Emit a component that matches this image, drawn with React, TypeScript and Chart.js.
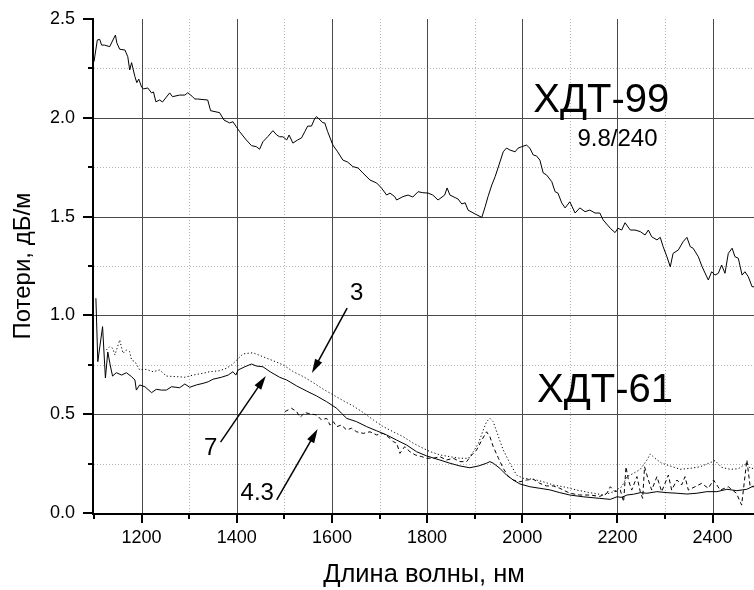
import React, { useEffect, useRef } from "react";
import { Chart, registerables } from "chart.js";

Chart.register(...registerables);

// ---- axis ticks ----
const xMajorTicks = [1200, 1400, 1600, 1800, 2000, 2200, 2400];
const xMinorTicks = [1100, 1300, 1500, 1700, 1900, 2100, 2300, 2500];
const yMajorTicks = [0, 0.5, 1.0, 1.5, 2.0, 2.5];
const yMinorTicks = [0.25, 0.75, 1.25, 1.75, 2.25];

// ---- ХДТ-99 (9.8/240) ----
const x99 = [1100, 1107, 1112, 1116, 1122, 1133, 1145, 1148, 1154, 1165, 1171, 1175, 1179, 1186, 1190, 1194, 1200, 1204, 1213, 1221, 1225, 1230, 1238, 1244, 1259, 1265, 1280, 1291, 1297, 1307, 1312, 1318, 1339, 1345, 1364, 1373, 1385, 1392, 1399, 1406, 1420, 1431, 1441, 1448, 1455, 1465, 1476, 1484, 1490, 1497, 1505, 1510, 1518, 1528, 1536, 1543, 1549, 1557, 1564, 1568, 1575, 1581, 1585, 1591, 1602, 1612, 1623, 1633, 1644, 1655, 1665, 1680, 1694, 1704, 1715, 1722, 1732, 1736, 1749, 1760, 1770, 1781, 1791, 1802, 1812, 1823, 1837, 1842, 1848, 1859, 1865, 1873, 1880, 1886, 1901, 1915, 1922, 1928, 1936, 1943, 1949, 1960, 1967, 1974, 1985, 1991, 1999, 2009, 2016, 2023, 2030, 2037, 2044, 2051, 2062, 2069, 2075, 2083, 2090, 2100, 2111, 2121, 2132, 2142, 2153, 2163, 2170, 2185, 2195, 2201, 2209, 2216, 2227, 2237, 2248, 2258, 2265, 2272, 2283, 2290, 2296, 2304, 2311, 2317, 2328, 2338, 2346, 2353, 2359, 2370, 2378, 2391, 2398, 2405, 2412, 2419, 2426, 2433, 2441, 2447, 2454, 2462, 2468, 2475, 2483, 2487];
const y99 = [2.284, 2.394, 2.397, 2.368, 2.368, 2.360, 2.419, 2.379, 2.347, 2.343, 2.309, 2.242, 2.279, 2.208, 2.178, 2.196, 2.156, 2.146, 2.151, 2.126, 2.131, 2.081, 2.090, 2.080, 2.126, 2.107, 2.115, 2.115, 2.127, 2.107, 2.095, 2.095, 2.090, 2.036, 2.026, 1.989, 1.974, 1.980, 1.955, 1.930, 1.888, 1.859, 1.854, 1.841, 1.879, 1.904, 1.935, 1.913, 1.904, 1.904, 1.888, 1.913, 1.872, 1.888, 1.898, 1.930, 1.958, 1.958, 1.997, 2.006, 1.989, 1.975, 1.974, 1.930, 1.862, 1.828, 1.786, 1.776, 1.753, 1.746, 1.721, 1.685, 1.670, 1.645, 1.609, 1.619, 1.601, 1.584, 1.601, 1.609, 1.599, 1.626, 1.621, 1.619, 1.609, 1.584, 1.609, 1.645, 1.609, 1.596, 1.589, 1.564, 1.570, 1.533, 1.513, 1.496, 1.550, 1.601, 1.660, 1.702, 1.746, 1.828, 1.847, 1.837, 1.828, 1.846, 1.854, 1.862, 1.846, 1.812, 1.807, 1.786, 1.721, 1.711, 1.677, 1.626, 1.619, 1.569, 1.544, 1.575, 1.518, 1.544, 1.525, 1.533, 1.518, 1.518, 1.483, 1.441, 1.419, 1.441, 1.432, 1.469, 1.432, 1.432, 1.424, 1.407, 1.432, 1.398, 1.382, 1.395, 1.348, 1.297, 1.246, 1.314, 1.331, 1.373, 1.395, 1.348, 1.340, 1.297, 1.246, 1.179, 1.221, 1.204, 1.213, 1.255, 1.213, 1.314, 1.340, 1.297, 1.289, 1.204, 1.221, 1.196, 1.145, 1.145];

// ---- ХДТ-61, curve "7" (solid) ----
const x7 = [1104, 1108, 1118, 1124, 1129, 1134, 1139, 1147, 1158, 1168, 1179, 1186, 1189, 1196, 1207, 1221, 1231, 1242, 1252, 1263, 1280, 1291, 1301, 1315, 1329, 1340, 1350, 1368, 1382, 1392, 1398, 1403, 1417, 1431, 1441, 1455, 1470, 1490, 1505, 1526, 1547, 1568, 1589, 1610, 1620, 1631, 1652, 1673, 1694, 1715, 1736, 1757, 1778, 1799, 1827, 1848, 1869, 1890, 1908, 1925, 1932, 1939, 1953, 1967, 1981, 1995, 2016, 2037, 2058, 2079, 2100, 2128, 2163, 2185, 2199, 2209, 2220, 2234, 2248, 2262, 2283, 2304, 2325, 2346, 2367, 2388, 2409, 2430, 2451, 2472, 2486];
const y7 = [1.087, 0.766, 0.943, 0.683, 0.815, 0.749, 0.693, 0.710, 0.698, 0.710, 0.690, 0.673, 0.622, 0.648, 0.639, 0.609, 0.626, 0.622, 0.622, 0.639, 0.634, 0.653, 0.636, 0.648, 0.656, 0.664, 0.677, 0.687, 0.698, 0.715, 0.698, 0.724, 0.740, 0.754, 0.744, 0.740, 0.715, 0.687, 0.673, 0.643, 0.617, 0.592, 0.563, 0.530, 0.505, 0.479, 0.462, 0.437, 0.416, 0.395, 0.369, 0.344, 0.310, 0.289, 0.268, 0.252, 0.238, 0.229, 0.238, 0.252, 0.260, 0.252, 0.226, 0.192, 0.167, 0.147, 0.133, 0.125, 0.117, 0.103, 0.091, 0.082, 0.074, 0.069, 0.082, 0.079, 0.091, 0.095, 0.103, 0.100, 0.108, 0.103, 0.100, 0.096, 0.100, 0.108, 0.108, 0.120, 0.113, 0.120, 0.137];

// ---- ХДТ-61, curve "3" (dotted) ----
const x3 = [1126, 1133, 1139, 1144, 1154, 1161, 1168, 1175, 1179, 1186, 1196, 1210, 1224, 1238, 1252, 1273, 1291, 1308, 1329, 1343, 1364, 1378, 1389, 1400, 1413, 1434, 1455, 1476, 1498, 1519, 1540, 1561, 1582, 1603, 1624, 1645, 1666, 1687, 1708, 1729, 1750, 1771, 1792, 1806, 1827, 1848, 1869, 1887, 1897, 1908, 1918, 1925, 1932, 1939, 1950, 1960, 1974, 1988, 2002, 2023, 2044, 2065, 2086, 2115, 2142, 2171, 2192, 2209, 2220, 2234, 2248, 2262, 2269, 2279, 2293, 2311, 2332, 2353, 2374, 2395, 2405, 2419, 2437, 2454, 2472, 2479, 2487];
const y3 = [0.825, 0.842, 0.834, 0.800, 0.876, 0.808, 0.825, 0.816, 0.774, 0.766, 0.724, 0.727, 0.715, 0.724, 0.693, 0.690, 0.687, 0.698, 0.707, 0.715, 0.720, 0.732, 0.749, 0.774, 0.805, 0.811, 0.791, 0.771, 0.749, 0.715, 0.690, 0.659, 0.626, 0.597, 0.568, 0.541, 0.508, 0.471, 0.437, 0.411, 0.386, 0.353, 0.327, 0.311, 0.294, 0.285, 0.277, 0.277, 0.310, 0.353, 0.420, 0.462, 0.479, 0.462, 0.386, 0.319, 0.252, 0.192, 0.176, 0.171, 0.158, 0.142, 0.133, 0.116, 0.103, 0.091, 0.108, 0.133, 0.184, 0.201, 0.221, 0.268, 0.299, 0.277, 0.252, 0.238, 0.221, 0.226, 0.234, 0.255, 0.265, 0.231, 0.221, 0.224, 0.252, 0.226, 0.226];

// ---- ХДТ-61, curve "4.3" (dashed) ----
const x43 = [1501, 1515, 1526, 1533, 1543, 1557, 1568, 1578, 1589, 1596, 1603, 1610, 1620, 1631, 1641, 1652, 1666, 1680, 1694, 1708, 1722, 1729, 1736, 1743, 1753, 1764, 1775, 1789, 1799, 1813, 1827, 1841, 1855, 1869, 1883, 1894, 1904, 1915, 1925, 1932, 1939, 1950, 1960, 1971, 1981, 1995, 2009, 2023, 2037, 2051, 2065, 2079, 2100, 2121, 2142, 2163, 2178, 2185, 2195, 2206, 2213, 2218, 2223, 2230, 2241, 2248, 2253, 2257, 2265, 2272, 2283, 2293, 2307, 2314, 2325, 2335, 2342, 2349, 2363, 2377, 2391, 2402, 2416, 2433, 2450, 2461, 2472, 2479, 2487];
const y43 = [0.513, 0.530, 0.513, 0.484, 0.508, 0.501, 0.496, 0.471, 0.479, 0.445, 0.462, 0.437, 0.445, 0.420, 0.429, 0.411, 0.403, 0.411, 0.395, 0.403, 0.378, 0.361, 0.353, 0.302, 0.336, 0.310, 0.294, 0.285, 0.277, 0.277, 0.285, 0.268, 0.277, 0.260, 0.260, 0.294, 0.319, 0.369, 0.411, 0.386, 0.336, 0.277, 0.226, 0.184, 0.167, 0.158, 0.167, 0.171, 0.150, 0.137, 0.137, 0.125, 0.100, 0.091, 0.091, 0.084, 0.100, 0.133, 0.108, 0.116, 0.057, 0.234, 0.167, 0.116, 0.184, 0.108, 0.074, 0.234, 0.167, 0.116, 0.184, 0.108, 0.192, 0.116, 0.167, 0.142, 0.184, 0.116, 0.133, 0.150, 0.125, 0.167, 0.116, 0.133, 0.100, 0.040, 0.268, 0.133, 0.133];

// ---- annotations (data coordinates) ----
const labelTexts = ["ХДТ-99", "9.8/240", "ХДТ-61", "3", "7", "4.3"];
const labelX = [2023, 2116, 2031, 1638, 1331, 1408];
const labelY = [2.03, 1.857, 0.562, 1.078, 0.294, 0.066];
const labelSizes = [40, 24, 40, 24, 24, 24];

const arrowFromX = [1632, 1366, 1484];
const arrowFromY = [1.037, 0.359, 0.066];
const arrowToX = [1558, 1461, 1570];
const arrowToY = [0.709, 0.693, 0.425];

const FONT = "'Liberation Sans', Arial, Helvetica, sans-serif";

const pts = (xs: number[], ys: number[]) => xs.map((x, i) => ({ x, y: ys[i] }));

const framePlugin = {
  id: "frame",
  beforeDatasetsDraw(chart: any) {
    const { ctx, chartArea, scales } = chart;
    const { left, right, top, bottom } = chartArea;
    const xs = scales.x;
    const ys = scales.y;
    ctx.save();
    ctx.lineWidth = 1;
    // minor dotted grid
    ctx.strokeStyle = "#b4b4b4";
    ctx.setLineDash([1, 2]);
    xMinorTicks.forEach((v) => {
      const px = Math.round(xs.getPixelForValue(v)) + 0.5;
      if (px <= left + 2 || px > right) return;
      ctx.beginPath();
      ctx.moveTo(px, top);
      ctx.lineTo(px, bottom);
      ctx.stroke();
    });
    yMinorTicks.forEach((v) => {
      const py = Math.round(ys.getPixelForValue(v)) + 0.5;
      ctx.beginPath();
      ctx.moveTo(left, py);
      ctx.lineTo(right, py);
      ctx.stroke();
    });
    // major solid grid
    ctx.setLineDash([]);
    ctx.strokeStyle = "#4a4a4a";
    xMajorTicks.forEach((v) => {
      const px = Math.round(xs.getPixelForValue(v)) + 0.5;
      ctx.beginPath();
      ctx.moveTo(px, top);
      ctx.lineTo(px, bottom);
      ctx.stroke();
    });
    yMajorTicks.forEach((v) => {
      if (v <= 0 || v >= 2.5) return;
      const py = Math.round(ys.getPixelForValue(v)) + 0.5;
      ctx.beginPath();
      ctx.moveTo(left, py);
      ctx.lineTo(right, py);
      ctx.stroke();
    });
    ctx.restore();
  },
  afterDatasetsDraw(chart: any) {
    const { ctx, chartArea, scales } = chart;
    const { left, right, top, bottom } = chartArea;
    const xs = scales.x;
    const ys = scales.y;
    ctx.save();
    ctx.strokeStyle = "#000";
    ctx.lineWidth = 2;
    // axes
    ctx.beginPath();
    ctx.moveTo(left - 1, top);
    ctx.lineTo(left - 1, bottom + 1);
    ctx.lineTo(right, bottom + 1);
    ctx.stroke();
    // ticks
    ctx.lineWidth = 2;
    yMajorTicks.forEach((v) => {
      const py = Math.round(ys.getPixelForValue(v));
      ctx.beginPath();
      ctx.moveTo(left - 11, py);
      ctx.lineTo(left, py);
      ctx.stroke();
    });
    yMinorTicks.forEach((v) => {
      const py = Math.round(ys.getPixelForValue(v));
      ctx.beginPath();
      ctx.moveTo(left - 6, py);
      ctx.lineTo(left, py);
      ctx.stroke();
    });
    xMajorTicks.forEach((v) => {
      const px = Math.round(xs.getPixelForValue(v));
      ctx.beginPath();
      ctx.moveTo(px, bottom);
      ctx.lineTo(px, bottom + 10);
      ctx.stroke();
    });
    xMinorTicks.forEach((v) => {
      const px = Math.round(xs.getPixelForValue(v));
      if (px > right) return;
      ctx.beginPath();
      ctx.moveTo(px, bottom);
      ctx.lineTo(px, bottom + 6);
      ctx.stroke();
    });
    // labels
    ctx.fillStyle = "#000";
    ctx.textAlign = "left";
    ctx.textBaseline = "alphabetic";
    labelTexts.forEach((t, i) => {
      ctx.font = `${labelSizes[i]}px ${FONT}`;
      ctx.fillText(t, xs.getPixelForValue(labelX[i]), ys.getPixelForValue(labelY[i]));
    });
    // arrows
    arrowFromX.forEach((_, i) => {
      const x1 = xs.getPixelForValue(arrowFromX[i]);
      const y1 = ys.getPixelForValue(arrowFromY[i]);
      const x2 = xs.getPixelForValue(arrowToX[i]);
      const y2 = ys.getPixelForValue(arrowToY[i]);
      const a = Math.atan2(y2 - y1, x2 - x1);
      const L = 14;
      const W = 4;
      ctx.lineWidth = 1.5;
      ctx.beginPath();
      ctx.moveTo(x1, y1);
      ctx.lineTo(x2 - Math.cos(a) * 8, y2 - Math.sin(a) * 8);
      ctx.stroke();
      ctx.beginPath();
      ctx.moveTo(x2, y2);
      ctx.lineTo(x2 - L * Math.cos(a) + W * Math.sin(a), y2 - L * Math.sin(a) - W * Math.cos(a));
      ctx.lineTo(x2 - L * Math.cos(a) - W * Math.sin(a), y2 - L * Math.sin(a) + W * Math.cos(a));
      ctx.closePath();
      ctx.fill();
    });
    ctx.restore();
  },
};

export default function App() {
  const ref = useRef<HTMLCanvasElement | null>(null);
  useEffect(() => {
    if (!ref.current) return;
    Chart.defaults.font.family = FONT;
    const chart = new Chart(ref.current, {
      type: "line",
      data: {
        datasets: [
          { label: "ХДТ-99", data: pts(x99, y99), borderColor: "#000", borderWidth: 1, pointRadius: 0, tension: 0 },
          { label: "7", data: pts(x7, y7), borderColor: "#000", borderWidth: 1, pointRadius: 0, tension: 0 },
          { label: "3", data: pts(x3, y3), borderColor: "#000", borderWidth: 1, borderDash: [1.2, 2.3], pointRadius: 0, tension: 0 },
          { label: "4.3", data: pts(x43, y43), borderColor: "#000", borderWidth: 1, borderDash: [4, 3], pointRadius: 0, tension: 0 },
        ],
      },
      options: {
        animation: false,
        responsive: false,
        parsing: true,
        layout: { padding: { top: 19, right: 0, left: 0, bottom: 0 } },
        plugins: { legend: { display: false }, tooltip: { enabled: false }, title: { display: false } },
        scales: {
          x: {
            type: "linear",
            min: 1100,
            max: 2487,
            grid: { display: false, drawTicks: false },
            border: { display: false },
            afterBuildTicks: (s: any) => {
              s.ticks = xMajorTicks.map((v) => ({ value: v }));
            },
            afterFit: (s: any) => {
              s.height = 77;
              s.paddingLeft = 0;
              s.paddingRight = 0;
            },
            ticks: { padding: 14, color: "#000", font: { size: 18 }, maxRotation: 0, autoSkip: false, callback: (v: any) => String(v) },
            title: { display: true, text: "Длина волны, нм", color: "#000", font: { size: 25.5 }, padding: { top: -2, bottom: 0 } },
          },
          y: {
            type: "linear",
            min: 0,
            max: 2.5,
            grid: { display: false, drawTicks: false },
            border: { display: false },
            afterBuildTicks: (s: any) => {
              s.ticks = yMajorTicks.map((v) => ({ value: v }));
            },
            afterFit: (s: any) => {
              s.width = 94;
              s.paddingTop = 0;
              s.paddingBottom = 0;
            },
            ticks: { padding: 19, color: "#000", font: { size: 18 }, autoSkip: false, callback: (v: any) => Number(v).toFixed(1) },
            title: { display: true, text: "Потери, дБ/м", color: "#000", font: { size: 24 }, padding: { top: 9, bottom: 0 } },
          },
        },
      },
      plugins: [framePlugin],
    });
    return () => chart.destroy();
  }, []);
  return (
    <div style={{ position: "absolute", left: 0, top: 0, width: 754, height: 590, background: "#fff" }}>
      <canvas ref={ref} width={754} height={590} style={{ display: "block" }} />
    </div>
  );
}
